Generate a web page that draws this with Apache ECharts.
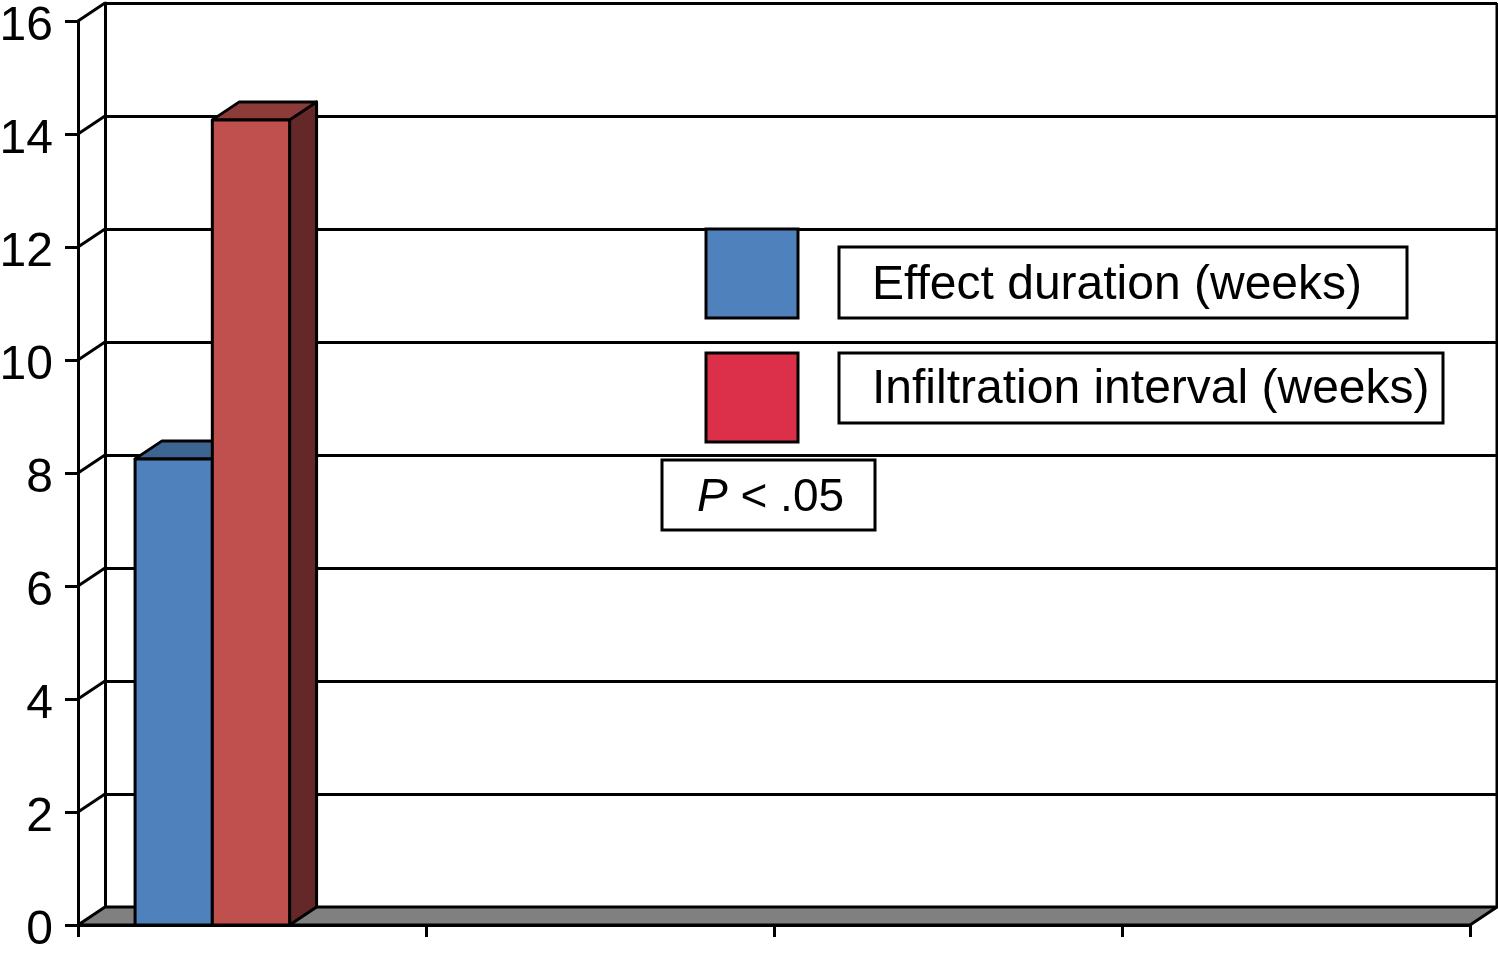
<!DOCTYPE html>
<html>
<head>
<meta charset="utf-8">
<script src="https://cdn.jsdelivr.net/npm/echarts@6/dist/echarts.min.js"></script>
<style>html,body{margin:0;padding:0;background:#fff}#c{width:1498px;height:957px}</style>
</head>
<body>
<div id="c"></div>
<script>
// ---- data ----
var categories = ['', '', '', ''];
var effectDuration = [8.25, null, null, null];
var infiltrationInterval = [14.25, null, null, null];
var yTicks = [0, 2, 4, 6, 8, 10, 12, 14, 16];
var legendNames = ['Effect duration (weeks)', 'Infiltration interval (weeks)'];
var pText = '{i|P} < .05';

// ---- style ----
var FONT = '"Liberation Sans", Arial, Helvetica, sans-serif';
var LW = 3;
var DX = 27, DY = 18;
var G = {left: 78, top: 21, width: 1392, height: 904};
var barLayout = [{off: 0.164, w: 0.222}, {off: 0.386, w: 0.222}];
var barColors = [
  {front: '#4F81BD', top: '#3C6592', side: '#2E4D70'},
  {front: '#C0504D', top: '#8C3B39', side: '#632827'}
];

var chart = echarts.init(document.getElementById('c'));

function seriesData(arr) {
  var out = [];
  arr.forEach(function (v, i) { if (v != null) out.push([i, v]); });
  return out;
}

function barRender(k) {
  return function (params, api) {
    var idx = api.value(0), v = api.value(1);
    var band = api.size([1, 0])[0];
    var c0 = api.coord([idx, 0]);
    var c1 = api.coord([idx, v]);
    var x = c0[0] - band / 2 + barLayout[k].off * band;
    var w = barLayout[k].w * band;
    var yb = c0[1], yt = c1[1];
    var col = barColors[k];
    var st = {stroke: '#000', lineWidth: LW, lineJoin: 'round'};
    return {
      type: 'group',
      children: [
        {type: 'polygon', shape: {points: [[x + w, yt], [x + w + DX, yt - DY], [x + w + DX, yb - DY], [x + w, yb]]},
          style: Object.assign({fill: col.side}, st)},
        {type: 'polygon', shape: {points: [[x, yt], [x + DX, yt - DY], [x + w + DX, yt - DY], [x + w, yt]]},
          style: Object.assign({fill: col.top}, st)},
        {type: 'rect', shape: {x: x, y: yt, width: w, height: yb - yt},
          style: Object.assign({fill: col.front}, st)}
      ]
    };
  };
}

function frameRender(params, api) {
  var v = api.value(1);
  var band = api.size([1, 0])[0];
  var leftX = api.coord([0, 0])[0] - band / 2;
  var rightX = api.coord([categories.length - 1, 0])[0] + band / 2;
  var p = api.coord([0, v]);
  var children = [];
  if (params.dataIndex === 0) {
    var y0 = p[1];
    var yTop = api.coord([0, yTicks[yTicks.length - 1]])[1];
    children.push({type: 'polygon',
      shape: {points: [[leftX, y0], [rightX, y0], [rightX + DX, y0 - DY], [leftX + DX, y0 - DY]]},
      style: {fill: '#808080', stroke: '#000', lineWidth: LW, lineJoin: 'round'}});
    children.push({type: 'line',
      shape: {x1: rightX + DX, y1: yTop - DY, x2: rightX + DX, y2: y0 - DY},
      style: {stroke: '#000', lineWidth: LW}});
  } else {
    children.push({type: 'line',
      shape: {x1: leftX, y1: p[1], x2: leftX + DX, y2: p[1] - DY},
      style: {stroke: '#000', lineWidth: LW}});
  }
  return {type: 'group', children: children};
}

var option = {
  backgroundColor: '#fff',
  animation: false,
  grid: [
    {left: G.left, top: G.top, width: G.width, height: G.height, containLabel: false, outerBoundsMode: 'none'},
    {left: G.left + DX, top: G.top - DY, width: G.width, height: G.height, containLabel: false, outerBoundsMode: 'none'}
  ],
  xAxis: [
    {type: 'category', gridIndex: 0, data: categories, boundaryGap: true,
      axisLine: {show: true, lineStyle: {color: '#000', width: LW}},
      axisTick: {show: true, length: 12, lineStyle: {color: '#000', width: LW}},
      axisLabel: {show: false}, splitLine: {show: false}},
    {type: 'category', gridIndex: 1, data: categories, show: false}
  ],
  yAxis: [
    {type: 'value', gridIndex: 0, min: 0, max: 16, interval: 2,
      axisLine: {show: true, lineStyle: {color: '#000', width: LW}},
      axisTick: {show: true, length: 13, lineStyle: {color: '#000', width: LW}},
      axisLabel: {show: true, color: '#000', fontSize: 48, fontFamily: FONT, margin: 25,
        formatter: '{t|{value}}',
        rich: {t: {color: '#000', fontSize: 48, fontFamily: FONT, padding: [12, 0, 0, 0]}}},
      splitLine: {show: false}},
    {type: 'value', gridIndex: 1, min: 0, max: 16, interval: 2,
      axisLine: {show: true, lineStyle: {color: '#000', width: LW}},
      axisTick: {show: false}, axisLabel: {show: false},
      splitLine: {show: true, lineStyle: {color: '#000', width: LW}}}
  ],
  series: [
    {type: 'custom', name: 'frame', xAxisIndex: 0, yAxisIndex: 0, z: 1,
      data: yTicks.map(function (v) { return [0, v]; }), renderItem: frameRender, silent: true},
    {type: 'custom', name: legendNames[0], xAxisIndex: 0, yAxisIndex: 0, z: 2,
      data: seriesData(effectDuration), renderItem: barRender(0)},
    {type: 'custom', name: legendNames[1], xAxisIndex: 0, yAxisIndex: 0, z: 3,
      data: seriesData(infiltrationInterval), renderItem: barRender(1)}
  ],
  graphic: [
    {type: 'rect', shape: {x: 706, y: 229, width: 92, height: 89}, style: {fill: '#4F81BD', stroke: '#000', lineWidth: LW}, z: 10},
    {type: 'rect', shape: {x: 706, y: 353, width: 92, height: 89}, style: {fill: '#DC304A', stroke: '#000', lineWidth: LW}, z: 10},
    {type: 'rect', shape: {x: 839, y: 247, width: 568, height: 71}, style: {fill: '#fff', stroke: '#000', lineWidth: LW}, z: 10},
    {type: 'rect', shape: {x: 839, y: 353, width: 604, height: 70}, style: {fill: '#fff', stroke: '#000', lineWidth: LW}, z: 10},
    {type: 'rect', shape: {x: 662, y: 460, width: 213, height: 70}, style: {fill: '#fff', stroke: '#000', lineWidth: LW}, z: 10},
    {type: 'text', x: 872, y: 286, z: 11, style: {text: legendNames[0], fill: '#000', fontSize: 48, fontFamily: FONT, verticalAlign: 'middle'}},
    {type: 'text', x: 872, y: 390, z: 11, style: {text: legendNames[1], fill: '#000', fontSize: 48, fontFamily: FONT, verticalAlign: 'middle'}},
    {type: 'text', x: 697, y: 498, z: 11, style: {text: pText, fill: '#000', fontSize: 46, fontFamily: FONT, verticalAlign: 'middle',
      rich: {i: {fontStyle: 'italic', fontSize: 46, fontFamily: FONT, fill: '#000'}}}}
  ]
};
chart.setOption(option);
</script>
</body>
</html>
